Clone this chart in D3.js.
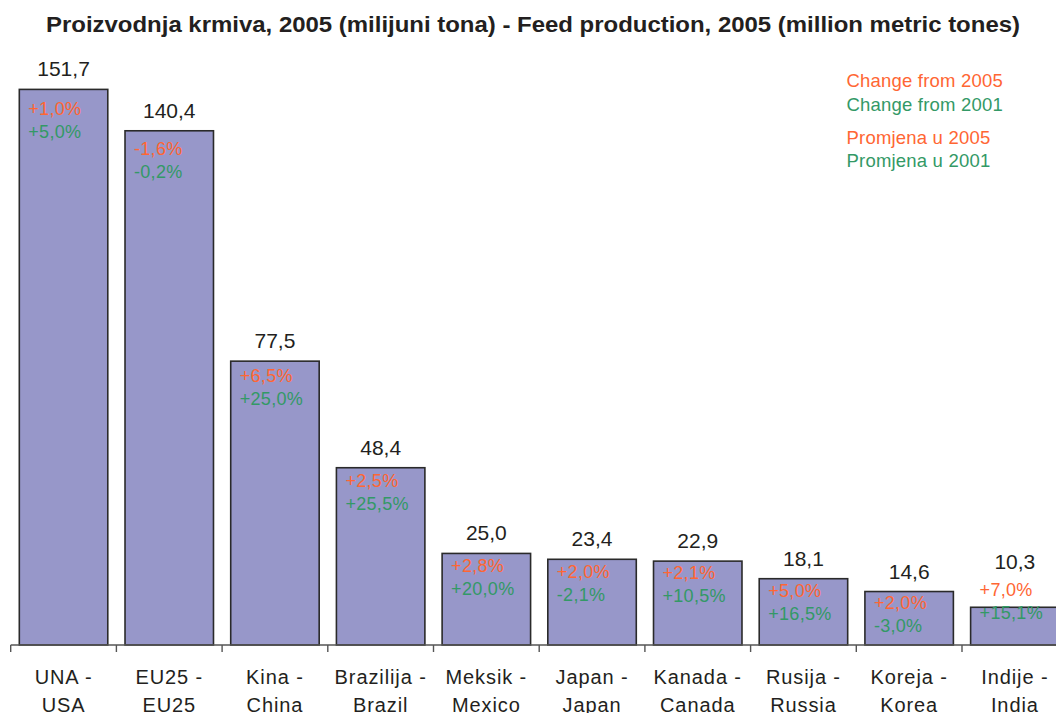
<!DOCTYPE html>
<html>
<head>
<meta charset="utf-8">
<script src="https://cdn.jsdelivr.net/npm/d3@7"></script>
<style>
  html, body { margin: 0; padding: 0; background: #ffffff; }
  svg { display: block; font-family: "Liberation Sans", Arial, sans-serif; }
</style>
</head>
<body>
<svg id="chart" width="1056" height="713"></svg>
<script>
// ---- data ----
const categoriesLocal = ["UNA -", "EU25 -", "Kina -", "Brazilija -", "Meksik -", "Japan -", "Kanada -", "Rusija -", "Koreja -", "Indije -"];
const categoriesEnglish = ["USA", "EU25", "China", "Brazil", "Mexico", "Japan", "Canada", "Russia", "Korea", "India"];
const production2005 = [151.7, 140.4, 77.5, 48.4, 25.0, 23.4, 22.9, 18.1, 14.6, 10.3];
const changeFrom2005 = [1.0, -1.6, 6.5, 2.5, 2.8, 2.0, 2.1, 5.0, 2.0, 7.0];
const changeFrom2001 = [5.0, -0.2, 25.0, 25.5, 20.0, -2.1, 10.5, 16.5, -3.0, 15.1];
const legendLabels = ["Change from 2005", "Change from 2001", "Promjena u 2005", "Promjena u 2001"];
const titleText = "Proizvodnja krmiva, 2005 (milijuni tona) - Feed production, 2005 (million metric tones)";

// ---- styles ----
const ORANGE = "#FF6633";
const GREEN = "#339966";
const BAR = "#9797C9";
const TEXT = "#231F20";

const svg = d3.select("#chart");
const W = 1056;

const idx = d3.range(categoriesLocal.length);
const pad = 0.163;
const x = d3.scaleBand().domain(idx).range([10.7, 10.7 + 105.7 * idx.length])
  .paddingInner(pad).paddingOuter(pad / 2);
const y = d3.scaleLinear().domain([0, 160]).range([645, 59]);

const locale = d3.formatLocale({ decimal: ",", thousands: ".", grouping: [3], currency: ["", ""], minus: "-" });
const comma = locale.format(".1f");
const pct = v => (v >= 0 ? "+" : "") + comma(v) + "%";

// title
svg.append("text")
  .attr("x", 46).attr("y", 31.7)
  .attr("font-size", 22).attr("font-weight", "bold")
  .attr("fill", TEXT)
  .attr("textLength", 974).attr("lengthAdjust", "spacingAndGlyphs")
  .text(titleText);

// bars
svg.append("g").selectAll("rect").data(idx).join("rect")
  .attr("x", i => x(i))
  .attr("y", i => y(production2005[i]))
  .attr("width", x.bandwidth())
  .attr("height", i => y(0) - y(production2005[i]))
  .attr("fill", BAR)
  .attr("stroke", "#2a2a2a")
  .attr("stroke-width", 1.6);

// axis (ticks at band boundaries)
const axisG = svg.append("g");
const step = x.step();
const bandStart = i => x(i) - step * pad / 2;
axisG.append("line")
  .attr("x1", bandStart(0)).attr("x2", W + 20)
  .attr("y1", y(0)).attr("y2", y(0))
  .attr("stroke", "#555").attr("stroke-width", 1.4);
axisG.selectAll("line.tick").data(idx).join("line")
  .attr("class", "tick")
  .attr("x1", i => bandStart(i)).attr("x2", i => bandStart(i))
  .attr("y1", y(0)).attr("y2", y(0) + 7)
  .attr("stroke", "#555").attr("stroke-width", 1.4);

// category labels
const catG = svg.append("g").attr("font-size", 20).attr("fill", TEXT)
  .attr("text-anchor", "middle").attr("letter-spacing", 0.9);
catG.selectAll("text.l1").data(idx).join("text").attr("class", "l1")
  .attr("x", i => x(i) + x.bandwidth() / 2).attr("y", 683.5)
  .text(i => categoriesLocal[i]);
catG.selectAll("text.l2").data(idx).join("text").attr("class", "l2")
  .attr("x", i => x(i) + x.bandwidth() / 2).attr("y", 711.5)
  .text(i => categoriesEnglish[i]);

// short bars get their labels lifted above the bar
const isShort = i => (y(0) - y(production2005[i])) < 45;

// value labels
svg.append("g").attr("font-size", 21).attr("fill", TEXT).attr("text-anchor", "middle")
  .selectAll("text").data(idx).join("text")
  .attr("x", i => x(i) + x.bandwidth() / 2)
  .attr("y", i => y(production2005[i]) - (isShort(i) ? 38 : 13))
  .text(i => comma(production2005[i]));

// percent labels
const orangeY = i => {
  const top = y(production2005[i]);
  const h = y(0) - top;
  return isShort(i) ? top - 11 : top + 17 + 0.015 * h;
};
const pctG = svg.append("g").attr("font-size", 18).attr("letter-spacing", 0.3);
pctG.selectAll("text.o").data(idx).join("text").attr("class", "o")
  .attr("x", i => x(i) + 9).attr("y", orangeY)
  .attr("fill", ORANGE)
  .text(i => pct(changeFrom2005[i]));
pctG.selectAll("text.g").data(idx).join("text").attr("class", "g")
  .attr("x", i => x(i) + 9).attr("y", i => orangeY(i) + 23)
  .attr("fill", GREEN)
  .text(i => pct(changeFrom2001[i]));

// legend
const legendY = [87.3, 110.7, 144, 167.3];
const legendColors = [ORANGE, GREEN, ORANGE, GREEN];
svg.append("g").attr("font-size", 18.5).attr("letter-spacing", 0.2)
  .selectAll("text").data(legendLabels).join("text")
  .attr("x", 846.5).attr("y", (d, i) => legendY[i])
  .attr("fill", (d, i) => legendColors[i])
  .text(d => d);
</script>
</body>
</html>
